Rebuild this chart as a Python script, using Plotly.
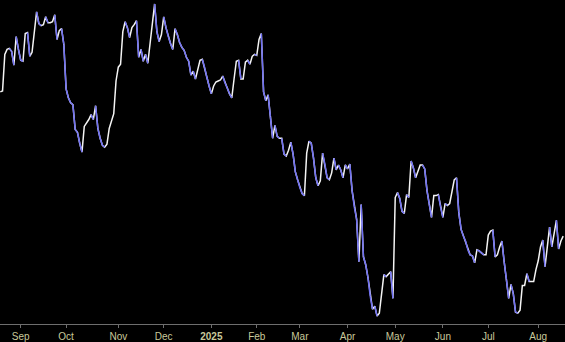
import pandas as pd
import plotly.graph_objects as go

# Daily closes (trading days 2024-08-20 .. 2025-08-18)
closes = [
    50.7, 50.8, 54.5, 55.0, 55.1, 54.8, 53.4, 56.3, 55.0, 53.9,
    53.8, 56.6, 56.7, 54.3, 54.7, 56.5, 58.8, 57.6, 57.4, 57.5,
    58.3, 57.7, 57.7, 57.8, 58.5, 56.0, 56.9, 57.1, 55.5, 51.0,
    50.1, 49.6, 49.4, 46.9, 46.6, 45.5, 44.6, 47.2, 47.5, 47.9,
    48.4, 47.9, 49.3, 47.0, 46.0, 45.3, 45.1, 45.4, 47.0, 47.7,
    48.5, 51.8, 53.2, 53.5, 56.8, 57.8, 57.2, 56.2, 57.2, 57.5,
    57.9, 54.2, 55.0, 53.8, 54.5, 53.6, 55.5, 57.8, 59.6, 56.8,
    55.8, 56.5, 58.3, 57.2, 56.3, 55.6, 55.0, 57.1, 56.5, 55.7,
    55.2, 54.9, 54.2, 53.8, 52.4, 52.8, 52.0, 53.0, 53.9, 54.0,
    53.2, 52.2, 51.3, 50.5, 51.3, 51.7, 51.8, 51.9, 52.3, 51.6,
    51.1, 50.5, 50.1, 52.0, 53.8, 53.9, 52.0, 52.0, 53.7, 53.9,
    53.5, 54.3, 54.5, 54.4, 56.0, 56.6, 50.7, 49.8, 50.4, 48.2,
    46.0, 47.3, 46.2, 46.0, 46.0, 44.4, 44.2, 44.8, 45.6, 44.4,
    42.6, 41.8, 41.0, 40.4, 40.2, 44.5, 45.7, 45.5, 44.0, 42.0,
    41.2, 41.7, 44.5, 43.4, 42.0, 41.8, 42.5, 44.0, 42.8, 43.3,
    42.8, 42.0, 43.3, 42.9, 43.4, 40.7, 39.0, 37.8, 33.5, 39.3,
    34.0, 33.2, 31.9, 30.0, 28.7, 29.0, 28.0, 28.3, 30.2, 32.2,
    32.0, 32.2, 32.5, 29.8, 40.0, 40.5, 39.9, 38.6, 38.4, 40.3,
    40.0, 43.7, 43.0, 42.0, 42.6, 43.3, 43.3, 42.9, 40.7, 39.3,
    38.0, 40.2, 40.2, 40.3, 39.0, 38.0, 39.4, 39.2, 39.4, 40.5,
    41.8, 42.0, 38.5, 36.8, 36.1, 35.6, 34.7, 34.2, 34.1, 33.4,
    34.7, 34.6, 34.4, 34.2, 34.2, 36.2, 36.6, 36.7, 34.0, 34.2,
    35.0, 35.6, 33.5, 31.7, 29.8, 31.2, 30.3, 28.4, 28.3, 28.6,
    31.1, 31.1, 32.3, 31.5, 31.5, 31.5, 32.7, 33.6, 35.0, 35.7,
    33.0, 34.8, 37.0, 35.0, 36.3, 37.7, 34.8, 35.6, 36.1,
]

holidays = ["2024-09-02", "2024-11-28", "2024-12-25", "2025-01-01", "2025-01-09",
            "2025-01-20", "2025-02-17", "2025-04-18", "2025-05-26", "2025-06-19",
            "2025-07-04"]
tick_labels = ["Sep", "Oct", "Nov", "Dec", "<b>2025</b>", "Feb", "Mar", "Apr",
               "May", "Jun", "Jul", "Aug"]

dates = pd.bdate_range("2024-08-20", "2025-08-18", freq="C", holidays=holidays)
n = min(len(dates), len(closes))
dates = dates[:n]
closes = closes[:n]
idx = list(range(n))

tickvals = [i for i in range(1, n) if dates[i].month != dates[i - 1].month]

WHITE = "#f4f4f4"
BLUE = "#6e6ef2"

# falling segments drawn in blue over the full white line
fx, fy = [], []
for i in range(1, n):
    if closes[i] < closes[i - 1]:
        fx += [idx[i - 1], idx[i], None]
        fy += [closes[i - 1], closes[i], None]

fig = go.Figure()
fig.add_trace(go.Scatter(x=idx, y=closes, mode="lines",
                         line=dict(color=WHITE, width=1.5), cliponaxis=False,
                         hoverinfo="skip", showlegend=False))
fig.add_trace(go.Scatter(x=fx, y=fy, mode="lines",
                         line=dict(color=BLUE, width=1.5), cliponaxis=False,
                         hoverinfo="skip", showlegend=False, connectgaps=False))

fig.update_layout(
    width=565, height=342,
    margin=dict(l=0, r=0, t=0, b=14),
    paper_bgcolor="#000000", plot_bgcolor="#000000",
    xaxis=dict(range=[-0.12, 248.8], showgrid=False, zeroline=False,
               showline=True, linecolor="#6e6e6e", linewidth=1,
               ticks="outside", ticklen=3, tickcolor="#6e6e6e",
               tickvals=tickvals, ticktext=tick_labels[:len(tickvals)],
               tickfont=dict(family="Liberation Sans", size=10, color="#c9c99b"),
               fixedrange=True),
    yaxis=dict(range=[27.2, 60.0], visible=False, fixedrange=True),
)

fig.write_html("out.html")
